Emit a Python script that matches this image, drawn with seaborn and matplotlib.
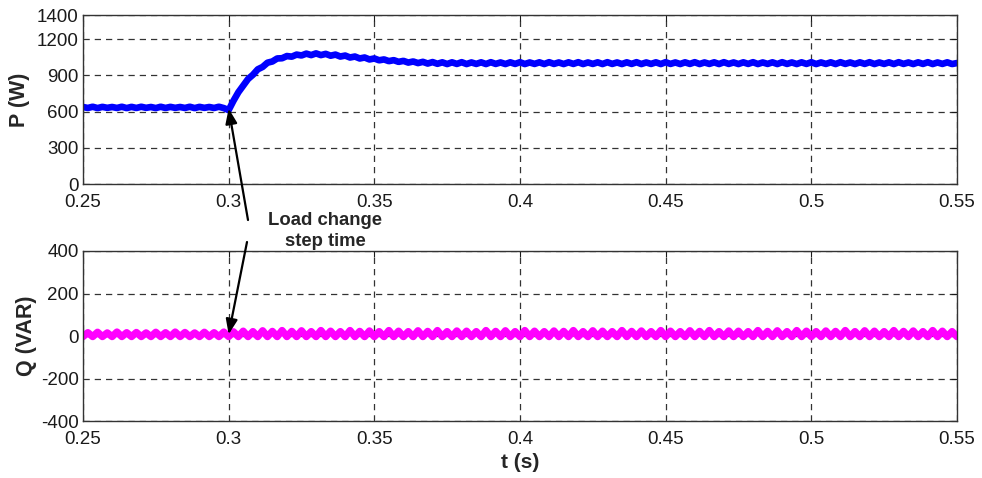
import numpy as np
import pandas as pd
import matplotlib
matplotlib.use("Agg")
import matplotlib.pyplot as plt
import seaborn as sns

# time base: 0.25 s .. 0.55 s, sampled every 1/600 s (181 samples)
t_start = 0.25
t_step = 1.0 / 600.0

# Active power P (W)
p_values = [
    638, 630, 640, 629, 639, 631, 638, 630, 640, 629,
    639, 630, 640, 631, 638, 629, 640, 630, 639, 631,
    638, 630, 640, 629, 639, 631, 638, 630, 640, 629,
    612, 690, 760, 815, 870, 905, 950, 970, 1005, 1015,
    1040, 1042, 1060, 1055, 1072, 1065, 1080, 1068, 1082, 1068,
    1078, 1063, 1072, 1056, 1064, 1048, 1056, 1040, 1048, 1032,
    1040, 1025, 1032, 1018, 1026, 1012, 1020, 1006, 1015, 1002,
    1012, 998, 1010, 996, 1008, 994, 1008, 995, 1009, 994,
    1007, 995, 1008, 994, 1009, 995, 1007, 994, 1008, 995,
    1009, 994, 1007, 995, 1008, 994, 1009, 995, 1007, 994,
    1008, 995, 1009, 994, 1007, 995, 1008, 994, 1009, 995,
    1007, 994, 1008, 995, 1009, 994, 1007, 995, 1008, 994,
    1009, 995, 1007, 994, 1008, 995, 1009, 994, 1007, 995,
    1008, 994, 1009, 995, 1007, 994, 1008, 995, 1009, 994,
    1007, 995, 1008, 994, 1009, 995, 1007, 994, 1008, 995,
    1009, 994, 1007, 995, 1008, 994, 1009, 995, 1007, 994,
    1008, 995, 1009, 994, 1007, 995, 1008, 994, 1009, 995,
    1007, 994, 1008, 995, 1009, 994, 1007, 995, 1008, 994,
    1002,
]

# Reactive power Q (VAR)
q_values = [
    -3, 16, -3, 18, -3, 15, -3, 19, -3, 16,
    -3, 17, -3, 15, -3, 18, -3, 16, -3, 19,
    -3, 17, -3, 15, -3, 18, -3, 16, -3, 19,
    -3, 20, -3, 23, -3, 21, -3, 25, -3, 22,
    -3, 26, -3, 22, -3, 25, -3, 21, -3, 26,
    -3, 23, -3, 21, -3, 26, -3, 22, -3, 24,
    -3, 21, -3, 26, -3, 23, -3, 21, -3, 25,
    -3, 22, -3, 26, -3, 21, -3, 24, -3, 23,
    -3, 21, -3, 26, -3, 22, -3, 25, -3, 21,
    -3, 26, -3, 23, -3, 21, -3, 24, -3, 22,
    -3, 26, -3, 21, -3, 25, -3, 23, -3, 21,
    -3, 26, -3, 22, -3, 24, -3, 21, -3, 26,
    -3, 23, -3, 21, -3, 25, -3, 22, -3, 26,
    -3, 21, -3, 24, -3, 23, -3, 21, -3, 26,
    -3, 22, -3, 25, -3, 21, -3, 26, -3, 23,
    -3, 21, -3, 24, -3, 22, -3, 26, -3, 21,
    -3, 25, -3, 23, -3, 21, -3, 26, -3, 22,
    -3, 24, -3, 21, -3, 26, -3, 23, -3, 21,
    -3,
]

x_ticks = [0.25, 0.3, 0.35, 0.4, 0.45, 0.5, 0.55]
x_tick_labels = ["0.25", "0.3", "0.35", "0.4", "0.45", "0.5", "0.55"]
p_ticks = [0, 300, 600, 900, 1200, 1400]
p_tick_labels = ["0", "300", "600", "900", "1200", "1400"]
q_ticks = [-400, -200, 0, 200, 400]
q_tick_labels = ["-400", "-200", "0", "200", "400"]

t_values = [t_start + i * t_step for i in range(len(p_values))]
df = pd.DataFrame({"t": t_values, "P": p_values, "Q": q_values})

sns.set_style("white")
plt.rcParams["font.family"] = ["Liberation Sans", "DejaVu Sans"]
plt.rcParams["axes.unicode_minus"] = False

fig = plt.figure(figsize=(9.82, 4.78), dpi=100)
ax1 = fig.add_axes([0.0845, 0.615, 0.89, 0.3536])
ax2 = fig.add_axes([0.0845, 0.1192, 0.89, 0.3557])

sns.lineplot(data=df, x="t", y="P", ax=ax1, color="#0000FF", linewidth=4.8,
             estimator=None, sort=False)
sns.lineplot(data=df, x="t", y="Q", ax=ax2, color="#FF00FF", linewidth=5.2,
             estimator=None, sort=False)

for ax, yt, yl in ((ax1, p_ticks, p_tick_labels), (ax2, q_ticks, q_tick_labels)):
    ax.set_xlim(0.25, 0.55)
    ax.set_xticks(x_ticks)
    ax.set_xticklabels(x_tick_labels)
    ax.set_yticks(yt)
    ax.set_yticklabels(yl)
    ax.set_ylim(yt[0], yt[-1])
    ax.tick_params(direction="in", length=4, width=0.8, labelsize=13.5,
                   colors="#1a1a1a", top=True, right=True)
    ax.tick_params(axis="x", pad=7)
    ax.tick_params(axis="y", pad=3)
    ax.grid(True, linestyle=(0, (5, 4)), color="#333333", linewidth=0.9)
    for s in ax.spines.values():
        s.set_visible(True)
        s.set_color("#333333")
        s.set_linewidth(1.0)
    ax.set_axisbelow(True)

ax1.set_xlabel("")
ax1.set_ylabel("P (W)", fontsize=15.5, fontweight="bold", labelpad=5)
ax2.set_ylabel("Q (VAR)", fontsize=15.5, fontweight="bold", labelpad=3)
ax2.set_xlabel("t (s)", fontsize=15, fontweight="bold", labelpad=4)

fig.text(325 / 982, 1 - 231 / 478, "Load change\nstep time", ha="center",
         va="center", fontsize=13.3, fontweight="bold", linespacing=1.25)

arrow_kw = dict(arrowstyle="-|>,head_length=0.9,head_width=0.35",
                color="black", lw=1.6, shrinkA=0, shrinkB=0)
ax1.annotate("", xy=(0.3, 625), xycoords="data",
             xytext=(248 / 982, 1 - 220 / 478), textcoords="figure fraction",
             arrowprops=arrow_kw, annotation_clip=False)
ax2.annotate("", xy=(0.3, 8), xycoords="data",
             xytext=(247 / 982, 1 - 242 / 478), textcoords="figure fraction",
             arrowprops=arrow_kw, annotation_clip=False)

fig.savefig("out.png", dpi=100)
